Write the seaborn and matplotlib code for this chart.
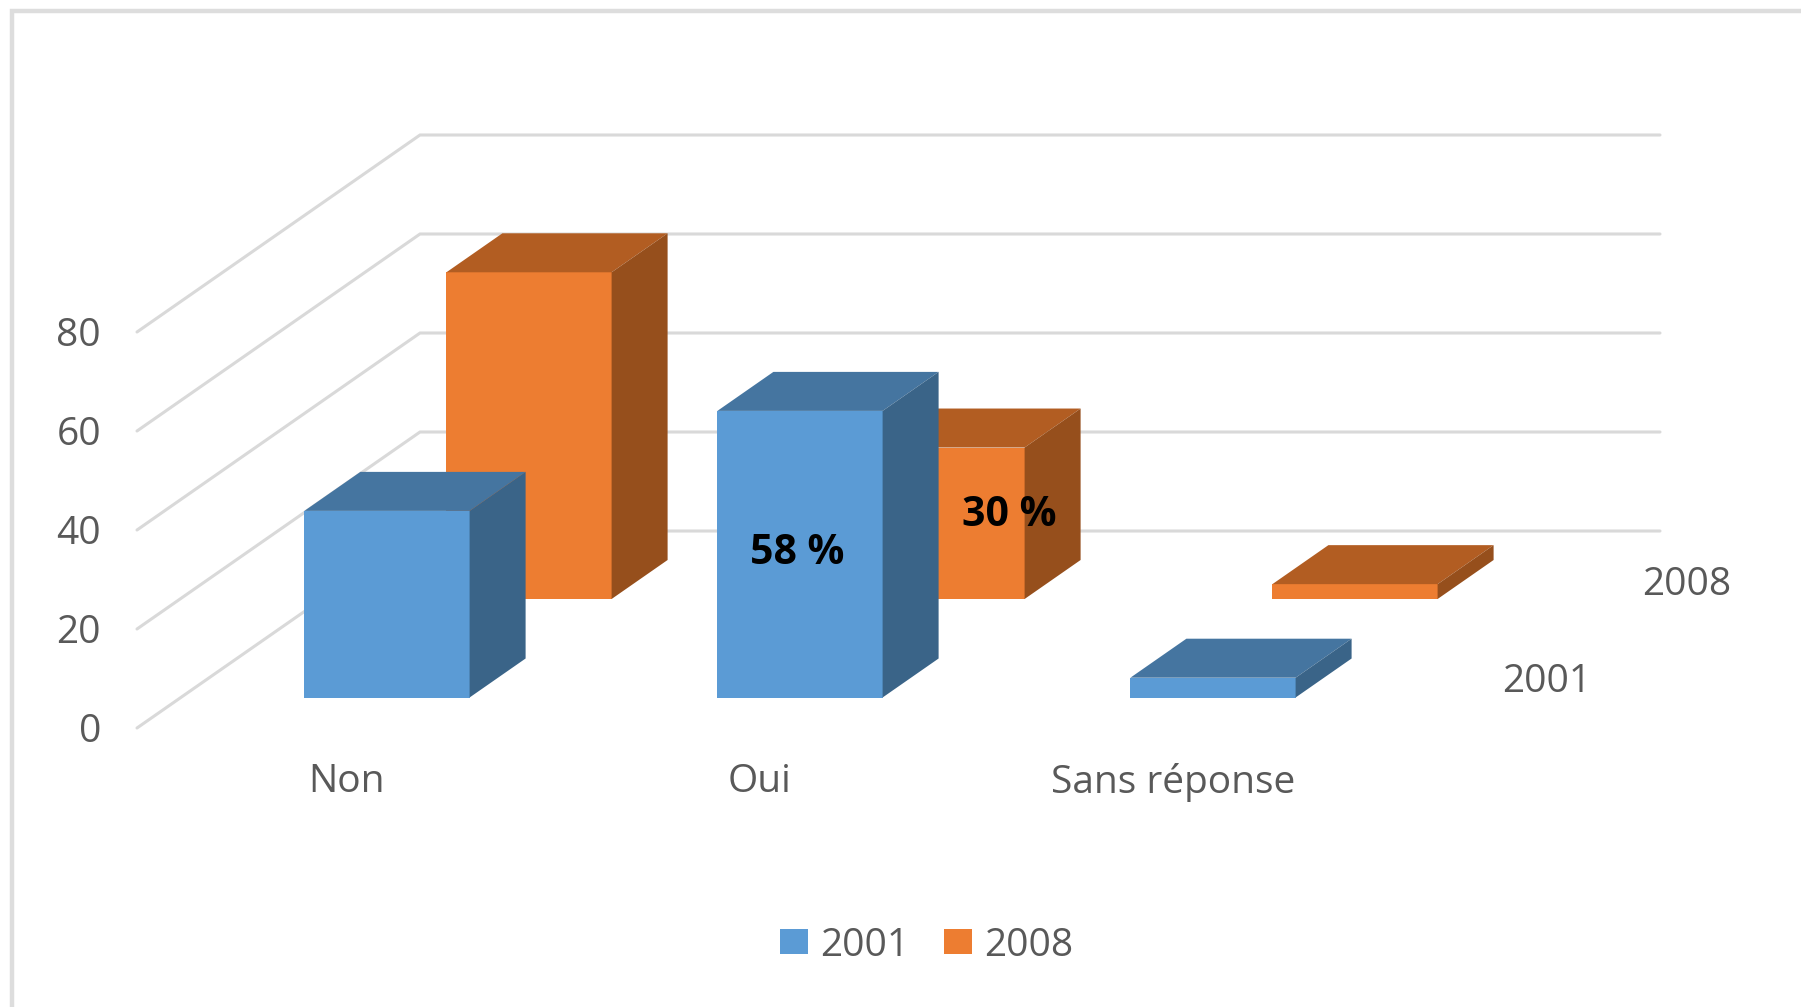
import matplotlib
matplotlib.use("Agg")
import matplotlib.pyplot as plt
from matplotlib.lines import Line2D
from matplotlib.patches import Patch, Polygon
from matplotlib.transforms import IdentityTransform
import seaborn as sns

# Chart data
categories = ['Non', 'Oui', 'Sans réponse']
values_2001 = [37.7, 57.9, 4.0]
values_2008 = [66.0, 30.6, 3.0]
y_ticks = [0, 20, 40, 60, 80]
series_names = ['2001', '2008']

# Colours: front, top, side of each 3D bar
BLUE = ['#5B9BD5', '#4575A0', '#3A6488']
ORANGE = ['#ED7D31', '#B25D22', '#964F1C']
GRID = '#D9D9D9'
TEXT = '#595959'

W, H = 1801, 1007
PX_PER_UNIT = 4.95
DEPTH = (56, 39)  # bar depth on screen, pixels
FONT = 28


# Axes with a given pixel origin (x of the left side, y of value 0, from the top)
def make_axes(left, base, zorder):
    ax = fig.add_axes([left / W, 1 - base / H, 1239 / W, 100 * PX_PER_UNIT / H], zorder=zorder)
    ax.patch.set_alpha(0)
    return ax


# Bars by seaborn, the top and side faces follow from each bar
def draw_bars(ax, values, colors):
    sns.barplot(x=categories, y=values, color=colors[0], saturation=1, width=0.4, linewidth=0, ax=ax)
    ax.set_xlim(-0.5, 2.5)
    ax.set_ylim(0, 100)
    ax.axis('off')
    dx, dy = DEPTH
    for bar in list(ax.patches):
        (x0, y0), (x1, y1) = ax.transData.transform(
            [(bar.get_x(), 0), (bar.get_x() + bar.get_width(), bar.get_height())])
        top = [(x0, y1), (x1, y1), (x1 + dx, y1 + dy), (x0 + dx, y1 + dy)]
        side = [(x1, y0), (x1 + dx, y0 + dy), (x1 + dx, y1 + dy), (x1, y1)]
        ax.add_patch(Polygon(top, closed=True, fc=colors[1], lw=0, transform=IdentityTransform(), clip_on=False))
        ax.add_patch(Polygon(side, closed=True, fc=colors[2], lw=0, transform=IdentityTransform(), clip_on=False))


def label(ax, text, xy, offset, **kwargs):
    ax.annotate(text, xy=xy, xytext=offset, textcoords='offset pixels', ha='center', va='center',
                annotation_clip=False, **kwargs)


sns.set_theme(style='white')
plt.rcParams['font.family'] = ['Open Sans', 'DejaVu Sans']

fig = plt.figure(figsize=(W / 100, H / 100), dpi=100)

ax_back = make_axes(322.5, 599, 1)
ax_front = make_axes(180.5, 697.5, 2)
draw_bars(ax_back, values_2008, ORANGE)
draw_bars(ax_front, values_2001, BLUE)

# Walls: floor diagonal then the back wall line
for v in y_ticks:
    _, y = ax_front.transData.transform((0, v))
    ax_back.plot([137, 420, 1660], [y - 30.5, y + 166.5, y + 166.5], color=GRID, lw=2.2, zorder=0.5,
                 transform=IdentityTransform(), clip_on=False, solid_joinstyle='miter')
    ax_front.annotate(str(v), xy=(-0.5, v), xytext=(-79.5, -34.5), textcoords='offset pixels', ha='right',
                      va='center', color=TEXT, fontsize=FONT, annotation_clip=False)

for i, cat in enumerate(categories):
    label(ax_front, cat, (i, 0), (-40, -85), color=TEXT, fontsize=FONT)

# Series names along the depth axis
label(ax_front, series_names[0], (2, 0), (334, 15), color=TEXT, fontsize=FONT)
label(ax_back, series_names[1], (2, 0), (332, 14), color=TEXT, fontsize=FONT)

# The two data labels of the original
label(ax_front, '58 %', (1, values_2001[1] / 2), (-3, 1), color='black', fontsize=29.5, fontweight='bold', zorder=5)
label(ax_back, '30 %', (1, values_2008[1] / 2), (67, 8), color='black', fontsize=29.5, fontweight='bold', zorder=5)

handles = [Patch(fc=BLUE[0], lw=0, label=series_names[0]), Patch(fc=ORANGE[0], lw=0, label=series_names[1])]
fig.legend(handles=handles, loc='center', bbox_to_anchor=(926.5 / W, 1 - 945.5 / H), ncol=2, frameon=False,
           fontsize=FONT, labelcolor=TEXT, handlelength=0.72, handleheight=0.6, handletextpad=0.31,
           columnspacing=0.89, borderpad=0)

# Light frame of the chart area
fig.add_artist(Line2D([11.7, 11.7, W], [0, H - 10.5, H - 10.5], color='#DDDDDD', lw=3.2,
                      transform=IdentityTransform(), solid_joinstyle='miter'))

fig.savefig('out.png', dpi=100)
